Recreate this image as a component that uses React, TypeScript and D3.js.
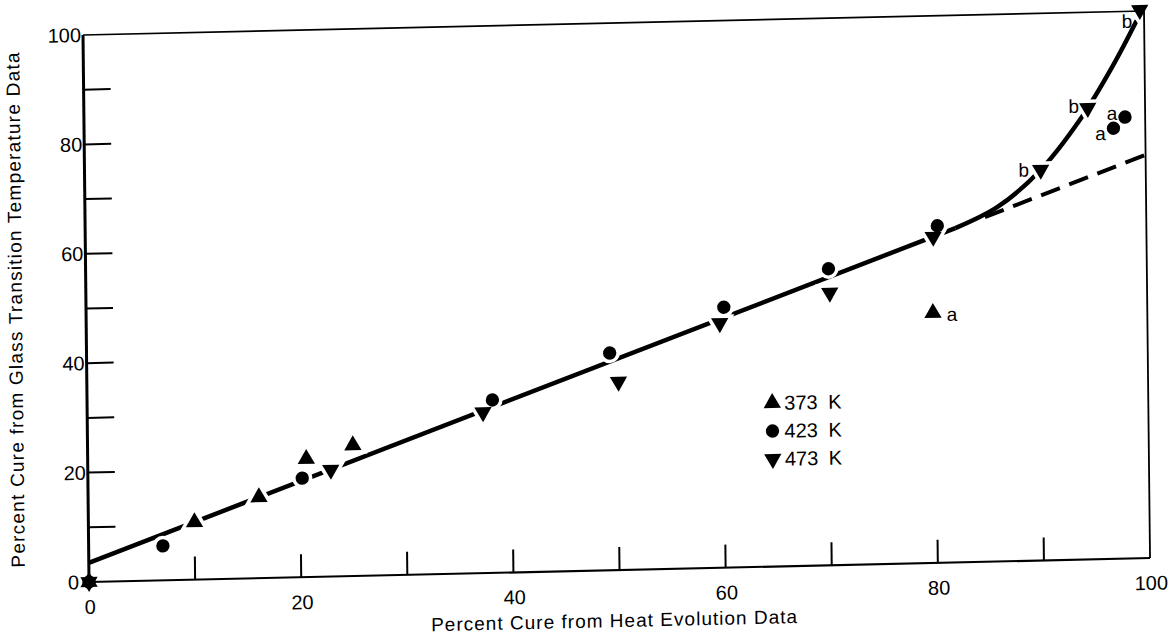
import React from "react";
import * as d3 from "d3";

// ---- data (percent cure) ----
const xTickValues = [0, 20, 40, 60, 80, 100];
const yTickValues = [0, 20, 40, 60, 80, 100];
const minorTickValues = [10, 20, 30, 40, 50, 60, 70, 80, 90];

const seriesNames = ["373 K", "423 K", "473 K"];

// 373 K (triangle up)
const x373 = [0, 10, 16.1, 20.6, 25.0, 79.8];
const y373 = [0, 10.5, 14.8, 21.6, 23.9, 45.7];
const note373 = ["", "", "", "", "", "a"];

// 423 K (circle)
const x423 = [0, 7.0, 20.2, 38.2, 49.3, 60.1, 70.0, 80.3, 97.0, 98.1];
const y423 = [0, 6.3, 18.1, 31.6, 39.7, 47.6, 54.2, 61.6, 78.7, 80.7];
const note423 = ["", "", "", "", "", "", "", "", "a", "a"];

// 473 K (triangle down)
const x473 = [0, 22.9, 37.3, 50.1, 59.7, 70.1, 79.9, 90.1, 94.6, 99.6];
const y473 = [0, 19.5, 29.4, 34.4, 44.7, 49.8, 59.6, 71.4, 82.5, 100.2];
const note473 = ["", "", "", "", "", "", "", "b", "b", "b"];

// fitted straight line, its dashed extrapolation, and the upturning curve
const lineX = [0, 82];
const lineY = [3.5, 61.1];
const extX = [84.8, 100];
const extY = [63.0, 73.7];
const curveX = [82, 86, 90, 94, 97, 99.3];
const curveY = [61.1, 64.8, 71.2, 80.8, 90.1, 98.3];

// ---- layout ----
const W = 1061;
const H = 547;
const FONT = "'Liberation Sans', Arial, sans-serif";

// label offsets for the a / b notes (pixels), keyed by series then point index
const noteOffsets: Record<string, Record<number, [number, number]>> = {
  "373 K": { 5: [19, 2] },
  "423 K": { 8: [-13, 5], 9: [-13, -4] },
  "473 K": { 7: [-17, 0], 8: [-14, -2], 9: [-13, 11] },
};

type Pt = { x: number; y: number; note: string; series: string; i: number };

function zipPts(xs: number[], ys: number[], notes: string[], series: string): Pt[] {
  return xs.map((x, i) => ({ x, y: ys[i], note: notes[i], series, i }));
}

export default function App() {
  const xs = d3.scaleLinear().domain([0, 100]).range([0, W]);
  const ys = d3.scaleLinear().domain([0, 100]).range([H, 0]);

  const triUp = d3.symbol().type(d3.symbolTriangle).size(130)()!;
  const circ = d3.symbol().type(d3.symbolCircle).size(140)()!;
  const triDownPath = triUp;

  const pts373 = zipPts(x373, y373, note373, "373 K");
  const pts423 = zipPts(x423, y423, note423, "423 K");
  const pts473 = zipPts(x473, y473, note473, "473 K");

  const lineGen = d3
    .line<[number, number]>()
    .x((d) => xs(d[0]))
    .y((d) => ys(d[1]));
  const curveGen = d3
    .line<[number, number]>()
    .x((d) => xs(d[0]))
    .y((d) => ys(d[1]))
    .curve(d3.curveCatmullRom.alpha(0.5));

  const mainPath = lineGen(lineX.map((x, i) => [x, lineY[i]]))!;
  const extPath = lineGen(extX.map((x, i) => [x, extY[i]]))!;
  const curvePath = curveGen(curveX.map((x, i) => [x, curveY[i]]))!;

  const markerFor = (series: string) => {
    if (series === "373 K") return { d: triUp, rot: 0 };
    if (series === "423 K") return { d: circ, rot: 0 };
    return { d: triDownPath, rot: 180 };
  };

  const allPts = [...pts373, ...pts423, ...pts473];

  const renderMarker = (p: Pt, halo: boolean, key: string) => {
    const m = markerFor(p.series);
    return (
      <path
        key={key}
        d={m.d}
        transform={`translate(${xs(p.x)},${ys(p.y)}) rotate(${m.rot})`}
        fill={halo ? "#fff" : "#000"}
        stroke={halo ? "#fff" : "none"}
        strokeWidth={halo ? 7 : 0}
      />
    );
  };

  const legendRows = seriesNames.map((s, i) => ({ s, v: 383.5 + i * 28 }));

  return (
    <svg
      width={1173}
      height={637}
      style={{ position: "absolute", left: 0, top: 0, background: "#fff" }}
      fontFamily={FONT}
    >
      <rect x={0} y={0} width={1173} height={637} fill="#fff" />
      <g transform="matrix(1,-0.0226,0.011,1,83,35)">
        {/* fitted lines */}
        <path d={mainPath} fill="none" stroke="#000" strokeWidth={4.5} />
        <path d={curvePath} fill="none" stroke="#000" strokeWidth={4.5} />
        <path d={extPath} fill="none" stroke="#000" strokeWidth={4} strokeDasharray="20 10" />

        {/* halos that break the lines around the symbols */}
        {allPts.map((p, k) => renderMarker(p, true, `h${k}`))}

        {/* frame */}
        <line x1={0} y1={0} x2={W} y2={0} stroke="#000" strokeWidth={1.6} />
        <line x1={W} y1={0} x2={W} y2={H} stroke="#000" strokeWidth={1.8} />
        <line x1={0} y1={H} x2={W} y2={H} stroke="#000" strokeWidth={2.2} />
        <line x1={0} y1={0} x2={0} y2={H} stroke="#000" strokeWidth={3} />

        {/* ticks */}
        {minorTickValues.map((t) => (
          <line key={`yt${t}`} x1={0} x2={27} y1={ys(t)} y2={ys(t)} stroke="#000" strokeWidth={2} />
        ))}
        {minorTickValues.map((t) => (
          <line key={`xt${t}`} x1={xs(t)} x2={xs(t)} y1={H} y2={H - 23} stroke="#000" strokeWidth={2} />
        ))}

        {/* tick labels */}
        {yTickValues.map((t) => (
          <text
            key={`yl${t}`}
            x={t === 0 ? -10 : -2}
            y={ys(t) + 7}
            textAnchor="end"
            fontSize={20}
            fill="#000"
          >
            {t}
          </text>
        ))}
        {xTickValues.map((t) => (
          <text
            key={`xl${t}`}
            x={xs(t) + 1}
            y={H + 32}
            textAnchor="middle"
            fontSize={20}
            fill="#000"
          >
            {t}
          </text>
        ))}

        {/* axis titles */}
        <text
          x={W / 2 - 6}
          y={H + 57}
          textAnchor="middle"
          fontSize={19}
          textLength={366}
          lengthAdjust="spacing"
          fill="#000"
        >
          Percent Cure from Heat Evolution Data
        </text>
        <text
          transform={`translate(-64,${H / 2}) rotate(-90)`}
          textAnchor="middle"
          fontSize={19}
          textLength={515}
          lengthAdjust="spacing"
          fill="#000"
        >
          Percent Cure from Glass Transition Temperature Data
        </text>

        {/* symbols */}
        {allPts.map((p, k) => renderMarker(p, false, `m${k}`))}

        {/* a / b notes */}
        {allPts
          .filter((p) => p.note)
          .map((p, k) => {
            const off = noteOffsets[p.series][p.i] || [0, 0];
            return (
              <text
                key={`n${k}`}
                x={xs(p.x) + off[0]}
                y={ys(p.y) + off[1]}
                textAnchor="middle"
                dominantBaseline="central"
                fontSize={19}
                fill="#000"
              >
                {p.note}
              </text>
            );
          })}

        {/* legend */}
        {legendRows.map((r) => {
          const m = markerFor(r.s);
          return (
            <g key={r.s}>
              <path d={m.d} transform={`translate(685,${r.v}) rotate(${m.rot})`} fill="#000" />
              <text x={697} y={r.v + 7} fontSize={20} wordSpacing={5} fill="#000">
                {r.s}
              </text>
            </g>
          );
        })}
      </g>
    </svg>
  );
}
